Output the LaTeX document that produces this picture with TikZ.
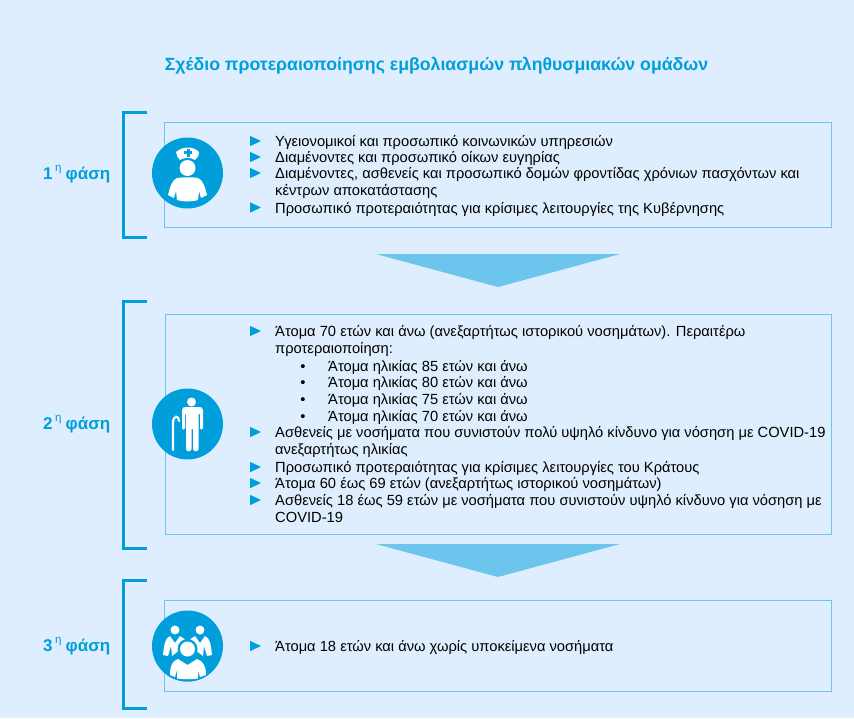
\documentclass[tikz,border=0pt]{standalone}
\usepackage{fontspec}
\setmainfont{Liberation Sans}
\definecolor{bgc}{HTML}{DEEEFE}
\definecolor{blu}{HTML}{009FDB}
\definecolor{lbl}{HTML}{6CC5EC}
\newcommand{\blt}[1]{\fill[blu] (250,#1-5.2) -- (261,#1) -- (250,#1+5.2) -- cycle;}
\newcommand{\phs}[1]{\makebox[10pt][l]{#1}\makebox[12.5pt][l]{\raisebox{8.5pt}{\fontsize{11.5}{10}\selectfont\mdseries\hspace{2pt}η}}φάση}
\tikzset{
  x=1pt,y=-1pt,
  txt/.style={anchor=base west,inner sep=0pt,font=\fontsize{14.7}{16}\selectfont,text=black},
  phase/.style={anchor=base west,inner sep=0pt,font=\bfseries\fontsize{17}{18}\selectfont,text=blu},
  panel/.style={draw=lbl,line width=1pt,fill=none},
  brk/.style={draw=blu,line width=3pt,miter limit=10},
  disc/.style={circle,fill=blu,minimum size=71pt,inner sep=0pt},
  arrowtri/.style={fill=lbl},
}
\begin{document}
\begin{tikzpicture}
\useasboundingbox (0,0) rectangle (854,718);
\fill[bgc] (0,0) rectangle (854,718);
\node[anchor=base,inner sep=0pt,font=\bfseries\fontsize{17.7}{18}\selectfont,text=blu] (title) at (436.5,70) {Σχέδιο προτεραιοποίησης εμβολιασμών πληθυσμιακών ομάδων};
% panels
\node[panel,minimum width=667pt,minimum height=105pt,inner sep=0pt,anchor=north west] (p1) at (164,122) {};
\node[panel,minimum width=666pt,minimum height=220pt,inner sep=0pt,anchor=north west] (p2) at (165,314) {};
\node[panel,minimum width=667pt,minimum height=91pt,inner sep=0pt,anchor=north west] (p3) at (164,600) {};
% brackets
\draw[brk] (147,112) -- (123,112) -- (123,237) -- (147,237);
\draw[brk] (147,301) -- (123,301) -- (123,548) -- (147,548);
\draw[brk] (147,580) -- (123,580) -- (123,708) -- (147,708);
% arrows
\fill[arrowtri] (376,254) -- (620,254) -- (498,287) -- cycle;
\fill[arrowtri] (376,544) -- (620,544) -- (498,577) -- cycle;
% phases
\node[phase] (f1) at (43,179.5) {\phs{1}};
\node[phase] (f2) at (43,429.5) {\phs{2}};
\node[phase] (f3) at (43,651.5) {\phs{3}};
% discs
\node[disc] (d1) at (187.5,173) {};
\node[disc] (d2) at (187.5,424) {};
\node[disc] (d3) at (187.5,646) {};
% nurse
\fill[white] (176,152) .. controls (183,146) and (193,146) .. (199,152) .. controls (199,156) and (197,158) .. (195,160) .. controls (190,157) and (185,157) .. (180,160) .. controls (178,158) and (176,155) .. (176,152) -- cycle;
\fill[blu] (186.5,148.5) rectangle (189.5,156.5);
\fill[blu] (184,151) rectangle (192,154);
\fill[white] (187.5,168) circle (8);
\fill[white] (168,195) .. controls (170,187) and (172,180) .. (177,178) .. controls (183,177) and (193,177) .. (198,178) .. controls (203,180) and (205,187) .. (207,195) -- (201,198) -- (199,191) -- (198,200) .. controls (190,202) and (184,202) .. (177,200) -- (176,191) -- (174,198) -- cycle;
% elder
\fill[white] (191.5,402) circle (4.5);
\fill[white] (182,410) .. controls (182,407.5) and (184,407) .. (186,407) -- (199,407) .. controls (201,407) and (203,407.5) .. (203,410) -- (203,428) .. controls (203,430) and (200,430) .. (200,428) -- (200,414) -- (198.5,414) -- (198.5,449) .. controls (198.5,452) and (193,452) .. (193,449) -- (193,429) -- (191.5,429) -- (191.5,449) .. controls (191.5,452) and (186,452) .. (186,449) -- (186,414) -- (185,414) -- (185,428) .. controls (185,430) and (182,430) .. (182,428) -- cycle;
\draw[white,line width=2.2pt,line cap=round] (173,450) -- (173,423) .. controls (173,415) and (179,415) .. (179,421);
% group
\fill[white] (175,630) circle (4.5);
\fill[white] (200,630) circle (4.5);
\fill[white] (163,655) .. controls (164,645) and (165,638) .. (170,636) -- (175,643) -- (180,636) .. controls (183,637) and (185,640) .. (186,641) -- (186,645) -- (172,656) -- (171,646) -- (168,656) -- cycle;
\fill[white] (212,655) .. controls (211,645) and (210,638) .. (205,636) -- (200,643) -- (195,636) .. controls (192,637) and (190,640) .. (189,641) -- (189,645) -- (203,656) -- (204,646) -- (207,656) -- cycle;
\begin{scope}
\clip (187.5,646) circle (35.5);
\fill[blu] (187.5,649) circle (10);
\fill[blu] (167,682) .. controls (167,665) and (170,658) .. (178,656) -- (197,656) .. controls (205,658) and (209,665) .. (209,682) -- cycle;
\end{scope}
\fill[white] (187.5,649) circle (7.5);
\fill[white] (170,675) .. controls (170,666) and (172,661) .. (178,659) -- (187.5,665) -- (197,659) .. controls (203,661) and (206,666) .. (206,675) -- (200,677) -- (198,670) -- (198,678.5) .. controls (190,679.5) and (185,679.5) .. (177,678.5) -- (177,670) -- (175,677) -- cycle;
% panel 1 text
\blt{141}\blt{157}\blt{173}\blt{207.5}
\node[txt] (a1) at (275,146) {Υγειονομικοί και προσωπικό κοινωνικών υπηρεσιών};
\node[txt] (a2) at (275,162) {Διαμένοντες και προσωπικό οίκων ευγηρίας};
\node[txt] (a3) at (275,178) {Διαμένοντες, ασθενείς και προσωπικό δομών φροντίδας χρόνιων πασχόντων και};
\node[txt] (a4) at (275,195) {κέντρων αποκατάστασης};
\node[txt] (a5) at (275,213) {Προσωπικό προτεραιότητας για κρίσιμες λειτουργίες της Κυβέρνησης};
% panel 2 text
\blt{331}\blt{432}\blt{467}\blt{483}\blt{500}
\node[txt] (b1) at (275,336) {Άτομα 70 ετών και άνω (ανεξαρτήτως ιστορικού νοσημάτων). Περαιτέρω};
\node[txt] (b2) at (275,353) {προτεραιοποίηση:};
\foreach \yy/\tt/\nn in {371/85/s1,387/80/s2,404/75/s3,421/70/s4}{
  \node[txt] (\nn) at (328,\yy) {Άτομα ηλικίας \tt\ ετών και άνω};
  \node[txt,anchor=base] (\nn b) at (303,\yy) {•};
}
\node[txt] (b3) at (275,437) {Ασθενείς με νοσήματα που συνιστούν πολύ υψηλό κίνδυνο για νόσηση με COVID-19};
\node[txt] (b4) at (275,454) {ανεξαρτήτως ηλικίας};
\node[txt] (b5) at (275,472) {Προσωπικό προτεραιότητας για κρίσιμες λειτουργίες του Κράτους};
\node[txt] (b6) at (275,488) {Άτομα 60 έως 69 ετών (ανεξαρτήτως ιστορικού νοσημάτων)};
\node[txt] (b7) at (275,505) {Ασθενείς 18 έως 59 ετών με νοσήματα που συνιστούν υψηλό κίνδυνο για νόσηση με};
\node[txt] (b8) at (275,522) {COVID-19};
% panel 3 text
\blt{646}
\node[txt] (c1) at (275,651) {Άτομα 18 ετών και άνω χωρίς υποκείμενα νοσήματα};
\end{tikzpicture}
\end{document}
